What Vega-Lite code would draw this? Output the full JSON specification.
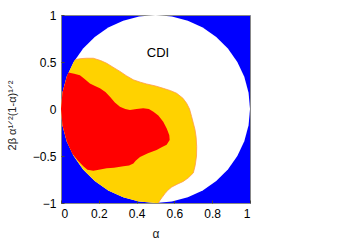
{
  "$schema": "https://vega.github.io/schema/vega-lite/v6.json",
  "autosize": "none",
  "width": 189,
  "height": 188,
  "padding": {"left": 61, "top": 15, "right": 92, "bottom": 37},
  "background": "white",
  "config": {
    "view": {"fill": "#0000ff", "stroke": "#888888", "strokeWidth": 1},
    "axis": {
      "domain": false, "grid": false,
      "labelFont": "Liberation Sans", "labelFontSize": 12, "labelColor": "#000000",
      "titleFont": "Liberation Sans", "titleFontWeight": "normal", "titleColor": "#222222",
      "tickColor": "#444444", "tickSize": -3, "tickWidth": 1
    }
  },
  "datasets": {
    "circle": [
      {"o":0,"a":1,"y":0},{"o":1,"a":0.9924,"y":0.1736},{"o":2,"a":0.9698,"y":0.342},{"o":3,"a":0.933,"y":0.5},
      {"o":4,"a":0.883,"y":0.6428},{"o":5,"a":0.8214,"y":0.766},{"o":6,"a":0.75,"y":0.866},{"o":7,"a":0.671,"y":0.9397},
      {"o":8,"a":0.5868,"y":0.9848},{"o":9,"a":0.5,"y":1},{"o":10,"a":0.4132,"y":0.9848},{"o":11,"a":0.329,"y":0.9397},
      {"o":12,"a":0.25,"y":0.866},{"o":13,"a":0.1786,"y":0.766},{"o":14,"a":0.117,"y":0.6428},{"o":15,"a":0.067,"y":0.5},
      {"o":16,"a":0.0302,"y":0.342},{"o":17,"a":0.0076,"y":0.1736},{"o":18,"a":0,"y":0},{"o":19,"a":0.0076,"y":-0.1736},
      {"o":20,"a":0.0302,"y":-0.342},{"o":21,"a":0.067,"y":-0.5},{"o":22,"a":0.117,"y":-0.6428},{"o":23,"a":0.1786,"y":-0.766},
      {"o":24,"a":0.25,"y":-0.866},{"o":25,"a":0.329,"y":-0.9397},{"o":26,"a":0.4132,"y":-0.9848},{"o":27,"a":0.5,"y":-1},
      {"o":28,"a":0.5868,"y":-0.9848},{"o":29,"a":0.671,"y":-0.9397},{"o":30,"a":0.75,"y":-0.866},{"o":31,"a":0.8214,"y":-0.766},
      {"o":32,"a":0.883,"y":-0.6428},{"o":33,"a":0.933,"y":-0.5},{"o":34,"a":0.9698,"y":-0.342},{"o":35,"a":0.9924,"y":-0.1736}
    ],
    "yellow": [
      {"o":0,"e":1,"a":0.074,"y":0.524},{"o":1,"e":1,"a":0.1,"y":0.535},{"o":2,"e":1,"a":0.135,"y":0.54},{"o":3,"e":1,"a":0.171,"y":0.54},
      {"o":4,"e":1,"a":0.21,"y":0.515},{"o":5,"e":1,"a":0.242,"y":0.486},{"o":6,"e":1,"a":0.275,"y":0.445},{"o":7,"e":1,"a":0.312,"y":0.4},
      {"o":8,"e":1,"a":0.345,"y":0.355},{"o":9,"e":1,"a":0.383,"y":0.31},{"o":10,"e":1,"a":0.42,"y":0.285},{"o":11,"e":1,"a":0.453,"y":0.266},
      {"o":12,"e":1,"a":0.5,"y":0.245},{"o":13,"e":1,"a":0.541,"y":0.22},{"o":14,"e":1,"a":0.58,"y":0.195},{"o":15,"e":1,"a":0.612,"y":0.167},
      {"o":16,"e":1,"a":0.645,"y":0.115},{"o":17,"e":1,"a":0.665,"y":0.06},{"o":18,"e":1,"a":0.68,"y":0},{"o":19,"e":1,"a":0.691,"y":-0.08},
      {"o":20,"e":1,"a":0.7,"y":-0.15},{"o":21,"e":1,"a":0.709,"y":-0.22},{"o":22,"e":1,"a":0.715,"y":-0.3},{"o":23,"e":1,"a":0.718,"y":-0.4},
      {"o":24,"e":1,"a":0.717,"y":-0.5},{"o":25,"e":1,"a":0.71,"y":-0.6},{"o":26,"e":1,"a":0.7,"y":-0.68},{"o":27,"e":1,"a":0.675,"y":-0.73},
      {"o":28,"e":1,"a":0.647,"y":-0.77},{"o":29,"e":1,"a":0.615,"y":-0.8},{"o":30,"e":1,"a":0.586,"y":-0.83},{"o":31,"e":1,"a":0.565,"y":-0.865},
      {"o":32,"e":1,"a":0.55,"y":-0.9},{"o":33,"e":1,"a":0.535,"y":-0.94},{"o":34,"e":1,"a":0.524,"y":-0.97},{"o":35,"e":1,"a":0.515,"y":-0.9996},
      {"o":36,"e":0,"a":0.5,"y":-1},{"o":37,"e":0,"a":0.4132,"y":-0.9848},{"o":38,"e":0,"a":0.329,"y":-0.9397},{"o":39,"e":0,"a":0.25,"y":-0.866},
      {"o":40,"e":0,"a":0.1786,"y":-0.766},{"o":41,"e":0,"a":0.117,"y":-0.6428},{"o":42,"e":0,"a":0.067,"y":-0.5},{"o":43,"e":0,"a":0.0302,"y":-0.342},
      {"o":44,"e":0,"a":0.0076,"y":-0.1736},{"o":45,"e":0,"a":0,"y":0},{"o":46,"e":0,"a":0.0076,"y":0.1736},{"o":47,"e":0,"a":0.0302,"y":0.342},
      {"o":48,"e":0,"a":0.067,"y":0.5}
    ],
    "red": [
      {"o":0,"a":0.039,"y":0.387},{"o":1,"a":0.07,"y":0.375},{"o":2,"a":0.1,"y":0.36},{"o":3,"a":0.125,"y":0.32},
      {"o":4,"a":0.153,"y":0.27},{"o":5,"a":0.18,"y":0.245},{"o":6,"a":0.206,"y":0.22},{"o":7,"a":0.235,"y":0.18},
      {"o":8,"a":0.259,"y":0.13},{"o":9,"a":0.285,"y":0.07},{"o":10,"a":0.312,"y":0.025},{"o":11,"a":0.34,"y":0},
      {"o":12,"a":0.365,"y":-0.01},{"o":13,"a":0.4,"y":0},{"o":14,"a":0.435,"y":0.007},{"o":15,"a":0.465,"y":0},
      {"o":16,"a":0.489,"y":-0.03},{"o":17,"a":0.515,"y":-0.07},{"o":18,"a":0.541,"y":-0.135},{"o":19,"a":0.56,"y":-0.21},
      {"o":20,"a":0.573,"y":-0.28},{"o":21,"a":0.575,"y":-0.33},{"o":22,"a":0.559,"y":-0.38},{"o":23,"a":0.53,"y":-0.41},
      {"o":24,"a":0.506,"y":-0.436},{"o":25,"a":0.46,"y":-0.47},{"o":26,"a":0.418,"y":-0.51},{"o":27,"a":0.395,"y":-0.55},
      {"o":28,"a":0.383,"y":-0.58},{"o":29,"a":0.36,"y":-0.6},{"o":30,"a":0.33,"y":-0.61},{"o":31,"a":0.28,"y":-0.625},
      {"o":32,"a":0.242,"y":-0.63},{"o":33,"a":0.2,"y":-0.645},{"o":34,"a":0.171,"y":-0.656},{"o":35,"a":0.14,"y":-0.645},
      {"o":36,"a":0.118,"y":-0.61},{"o":37,"a":0.09,"y":-0.55},{"o":38,"a":0.06,"y":-0.475},
      {"o":39,"a":0.0302,"y":-0.342},{"o":40,"a":0.0076,"y":-0.1736},{"o":41,"a":0,"y":0},{"o":42,"a":0.0076,"y":0.1736},
      {"o":43,"a":0.0302,"y":0.342}
    ],
    "label": [{"o":0,"a":0.513,"y":0.593,"t":"CDI"}]
  },
  "encoding": {
    "x": {"field": "a", "type": "quantitative", "scale": {"domain": [0, 1], "nice": false, "zero": false},
      "axis": {"values": [0, 0.2, 0.4, 0.6, 0.8, 1], "format": "~g", "labelPadding": 8, "title": "α", "titleFontSize": 12,
        "titleBaseline": "middle", "titleX": 94.5, "titleY": 30}},
    "y": {"field": "y", "type": "quantitative", "scale": {"domain": [-1, 1], "nice": false, "zero": false},
      "axis": {"values": [-1, -0.5, 0, 0.5, 1], "format": "~g", "labelPadding": 8, "title": "2β α¹ᐟ²(1-α)¹ᐟ²", "titleFontSize": 11,
        "titleAngle": -90, "titleBaseline": "middle", "titleX": -49, "titleY": 100}},
    "order": {"field": "o", "type": "quantitative"}
  },
  "layer": [
    {"data": {"name": "circle"}, "mark": {"type": "line", "filled": true, "color": "#ffffff"}},
    {"data": {"name": "yellow"}, "mark": {"type": "line", "filled": true, "color": "#ffd200"}},
    {"data": {"name": "yellow"}, "transform": [{"filter": "datum.e == 1"}], "mark": {"type": "line", "color": "#ff9a4a", "strokeWidth": 0.8}},
    {"data": {"name": "red"}, "mark": {"type": "line", "filled": true, "color": "#ff0000"}},
    {"data": {"name": "label"}, "mark": {"type": "text", "font": "Liberation Sans", "fontSize": 13, "color": "#000000", "baseline": "middle"},
      "encoding": {"text": {"field": "t", "type": "nominal"}}}
  ]
}
